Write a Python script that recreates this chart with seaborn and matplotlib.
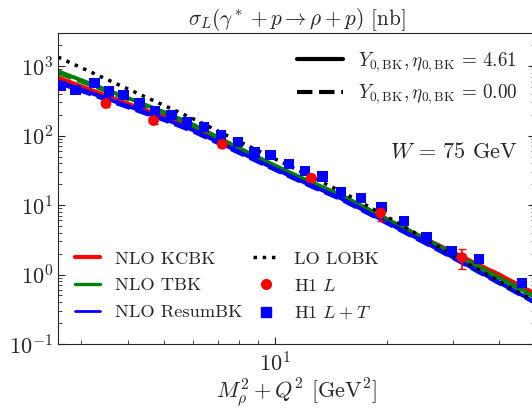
import matplotlib
matplotlib.use("Agg")
import matplotlib.pyplot as plt
import seaborn as sns
import pandas as pd
from matplotlib.lines import Line2D
from matplotlib.ticker import NullFormatter

# model curves, sampled at these M_rho^2 + Q^2 values
x_model = [2.6, 3, 4, 5, 6, 8, 10, 12, 15, 20, 25, 30, 40, 50]
kcbk_461 = [690, 515, 290, 187, 127, 61, 34.5, 22, 13.2, 6.2, 3.4, 2.1, 1.0, 0.53]
kcbk_000 = [665, 500, 284, 184, 125, 60.5, 34.2, 21.9, 13.2, 6.2, 3.4, 2.1, 1.0, 0.53]
tbk_461 = [845, 630, 350, 220, 145, 66, 37, 23.5, 14, 6.3, 3.35, 2.05, 0.9, 0.48]
tbk_000 = [800, 600, 335, 212, 140, 64, 36, 23, 13.7, 6.2, 3.3, 2.0, 0.89, 0.47]
resum_461 = [605, 461, 267, 175, 120, 58, 33, 21, 12.5, 5.6, 3.0, 1.78, 0.77, 0.40]
resum_000 = [575, 440, 256, 168, 115, 56, 32, 20.3, 12.1, 5.45, 2.92, 1.74, 0.75, 0.39]
lobk = [1350, 952, 472, 274, 175, 82, 46, 28.4, 15.8, 6.8, 3.4, 1.9, 0.8, 0.41]

# H1 data
h1_L_x = [3.5, 4.7, 7.2, 12.5, 19.2, 31.8]
h1_L_y = [290, 165, 75, 24.4, 7.7, 1.75]
h1_L_err = [30, 17, 7, 2.5, 1.8, 0.55]

h1_LT_x = [2.65, 2.9, 3.26, 3.56, 3.9, 4.31, 4.75, 5.25, 5.78, 6.44, 7.15, 7.93,
           8.79, 9.7, 10.9, 12.0, 13.4, 15.0, 17.0, 19.3, 22.2, 25.5, 29.8, 35.3, 46.2]
h1_LT_y = [515, 450, 567, 430, 384, 291, 228, 197, 158, 134, 101, 81,
           57, 52, 39.3, 30.8, 25.7, 15.6, 12.5, 9.3, 5.9, 3.5, 2.18, 1.69, 0.76]
h1_LT_err = [30, 27, 35, 26, 23, 18, 14, 12, 10, 8, 6, 5,
             3.5, 3.2, 2.4, 1.9, 1.6, 1.0, 0.8, 0.6, 0.4, 0.25, 0.16, 0.14, 0.07]

sns.set_style("ticks")
plt.rcParams["font.family"] = ["cmr10"]
plt.rcParams["mathtext.fontset"] = "cm"
plt.rcParams["axes.formatter.use_mathtext"] = True
plt.rcParams["axes.unicode_minus"] = False

fig = plt.figure(figsize=(5.32, 4.08), dpi=100)
ax = fig.add_axes([58 / 532, 64 / 408, 477 / 532, 311 / 408])

curves = [
    (kcbk_461, "red", "-"), (kcbk_000, "red", "--"),
    (tbk_461, "green", "-"), (tbk_000, "green", "--"),
    (resum_461, "blue", "-"), (resum_000, "blue", "--"),
]
for vals, col, ls in curves:
    sns.lineplot(x=x_model, y=vals, color=col, linestyle=ls, lw=2.8, ax=ax)
sns.lineplot(x=x_model, y=lobk, color="black", linestyle=":", lw=2.5, ax=ax)

ax.errorbar(h1_LT_x, h1_LT_y, yerr=h1_LT_err, fmt="none", ecolor="blue",
            elinewidth=1.2, capsize=2.5)
sns.scatterplot(x=h1_LT_x, y=h1_LT_y, marker="s", color="blue", s=55,
                edgecolor="none", ax=ax, zorder=4)
ax.errorbar(h1_L_x, h1_L_y, yerr=h1_L_err, fmt="none", ecolor="red",
            elinewidth=1.2, capsize=3)
sns.scatterplot(x=h1_L_x, y=h1_L_y, marker="o", color="red", s=60,
                edgecolor="none", ax=ax, zorder=5)

ax.set_xscale("log")
ax.set_yscale("log")
ax.set_xlim(2.6, 50)
ax.set_ylim(1e-1, 3e3)
ax.xaxis.set_minor_formatter(NullFormatter())
ax.tick_params(which="both", direction="in", right=True, top=False, labelsize=16)
ax.tick_params(which="major", length=5)
ax.tick_params(which="minor", length=3)
ax.tick_params(axis="x", which="major", pad=5)

ax.set_title(r"$\sigma_L(\gamma^* + p \rightarrow \rho + p)$ [nb]", fontsize=15.3, pad=2)
ax.set_xlabel(r"$M_\rho^2 + Q^2$ [GeV$^2$]", fontsize=16, labelpad=1)
ax.text(0.83, 0.62, r"$W\,=\,75$ GeV", transform=ax.transAxes,
        fontsize=16, ha="center", va="center")

style_handles = [
    Line2D([], [], color="black", lw=3, ls="-"),
    Line2D([], [], color="black", lw=3, ls="--"),
]
style_labels = [r"$Y_{0,\mathrm{BK}}, \eta_{0,\mathrm{BK}}\,=\,4.61$",
                r"$Y_{0,\mathrm{BK}}, \eta_{0,\mathrm{BK}}\,=\,0.00$"]
leg1 = ax.legend(style_handles, style_labels, loc="upper right",
                 bbox_to_anchor=(1.0, 1.0), frameon=False, fontsize=13.8,
                 handlelength=2.4, handletextpad=0.8, labelspacing=0.45)
ax.add_artist(leg1)

model_handles = [
    Line2D([], [], color="red", lw=3),
    Line2D([], [], color="green", lw=2.4),
    Line2D([], [], color="blue", lw=2),
    Line2D([], [], color="black", lw=2.5, ls=":"),
    Line2D([], [], color="red", marker="o", ls="none", markersize=7),
    Line2D([], [], color="blue", marker="s", ls="none", markersize=6.5),
]
model_labels = ["NLO KCBK", "NLO TBK", "NLO ResumBK", "LO LOBK",
                r"H1 $L$", r"H1 $L + T$"]
ax.legend(model_handles, model_labels, loc="lower left", ncol=2,
          bbox_to_anchor=(0.0, 0.02), frameon=False, fontsize=13.2,
          handlelength=1.4, handletextpad=0.8, labelspacing=0.6,
          columnspacing=0.6)

fig.savefig("out.png", dpi=100)
plt.close(fig)
